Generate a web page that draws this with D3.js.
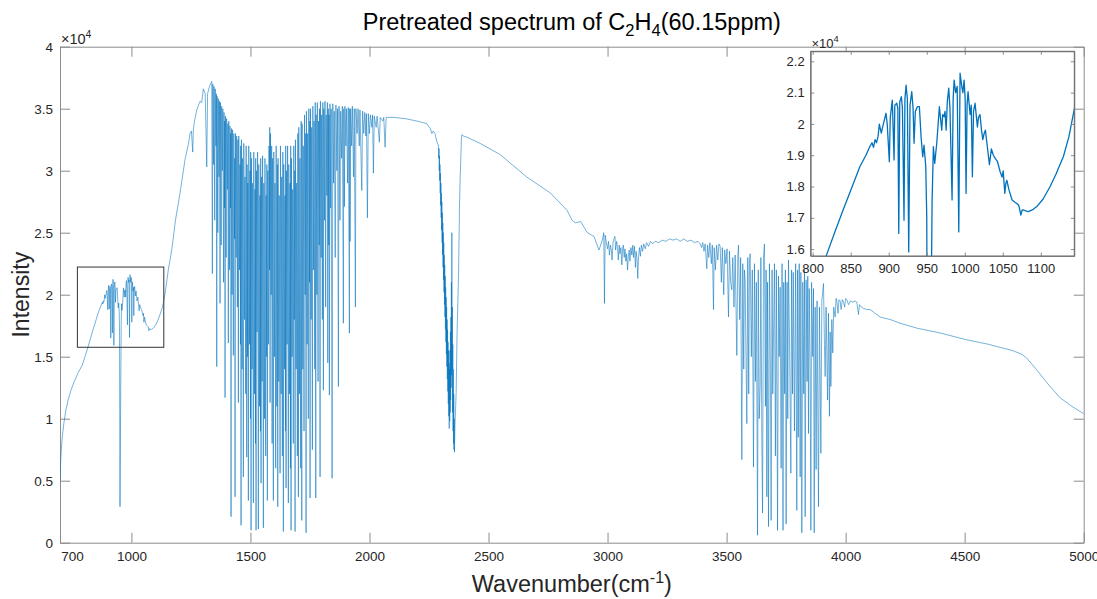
<!DOCTYPE html>
<html lang="en">
<head>
<meta charset="UTF-8">
<title>Pretreated spectrum of C2H4</title>
<style>
  body { margin: 0; background: #fff; }
  svg { display: block; font-family: "Liberation Sans", Arial, Helvetica, sans-serif; }
</style>
</head>
<body>
<script src="https://cdn.jsdelivr.net/npm/d3@7"></script>
<script>
// spectrum: [wavenumber (cm-1), intensity (x1e4)]
const risingEdge = [
  [700,0.50],[702,0.62],[705,0.74],[710,0.86],[716,0.96],[724,1.06],[734,1.15],[746,1.23],[760,1.30],
  [776,1.37],[793,1.43],[805,1.50],[818,1.58],[830,1.66],[840,1.725],[852,1.80],[862,1.863],[870,1.90],
  [875,1.927],[878,1.94],[880,1.925],[882,1.95],[884,1.94],[886,1.96],[887.6,1.999],[890.2,1.971],[893,2.00],
  [896.4,2.034],[898,2.00],[900.8,1.879],[902,2.02],[904.7,2.076],[907,1.885],[908,2.06],[910.5,2.066],
  [912,2.05],[913.2,1.650],[914.5,2.07],[916.6,2.087],[918,2.05],[920.1,1.692],[921.3,2.08],[922.8,2.124],
  [924.5,2.08],[926.3,1.591],[928,2.06],[930.3,2.103],[932,2.05],[933.3,1.938],[935,2.04],[937.6,2.055],
  [940.3,2.055],[942.5,1.96],[944.7,1.895],[946.4,1.932],[948.7,1.863],[950,1.70],[952,0.29],[955,1.20],
  [957,1.75],[958.7,1.927],[960.5,1.874],[963.2,1.94],[966.6,2.055],[968,2.02],[969.7,1.980],[971,2.03],
  [972.8,2.023],[974,2.04],[975.5,1.980],[977,2.07],[978.9,2.114],[980.5,2.05],[983.3,1.757],[984.7,2.08],
  [986,2.140],[988,2.10],[990,2.12],[992.1,1.655],[993.8,2.162],[996.4,2.114],[997.5,2.10],[999.1,2.140],
  [1000.5,2.08],[1001.7,1.778],[1003,2.06],[1004.3,2.103],[1007,2.03],[1008.5,2.06],[1010,1.831],
  [1011.5,2.04],[1013.5,2.066],[1016.6,1.99],[1018,2.02],[1020,2.03],[1022,1.98],[1023.7,1.95],
  [1025.5,1.97],[1027.1,1.98],[1030,1.92],[1032.4,1.87],[1035,1.92],[1037.6,1.90],[1040,1.89],
  [1042.9,1.88],[1046.4,1.848],[1049,1.83],[1050.5,1.85],[1052.6,1.778],[1054,1.81],[1055.3,1.82],
  [1058,1.79],[1062.2,1.757],[1066,1.75],[1068.4,1.746],[1071,1.74],[1073.7,1.709],[1075.5,1.725],
  [1077.1,1.725],[1080,1.722],[1083.7,1.72],[1090,1.727],[1094.7,1.736],[1103,1.76],[1112.2,1.80],
  [1120,1.84],[1129.7,1.896],[1137,1.96],[1144.2,2.05],[1155,2.20],[1169.3,2.36],[1185,2.60],
  [1204.2,2.82],[1225.2,3.09],[1240,3.22],[1246.2,3.30],[1252,3.32],[1257.6,3.15],[1260,3.33],
  [1265,3.40],[1274.4,3.49],[1288.2,3.56],[1295,3.55],[1302.1,3.66],[1310,3.62],[1316.4,3.03],
  [1320,3.62],[1328,3.68],[1337.4,3.72]
];

// H2O bending band
const bendBand = [
  [1340,2.17],[1342,3.70],[1345,3.05],[1347,3.68],[1350,2.60],[1352,3.66],[1355,3.20],[1357,3.62],
  [1358.4,1.42],[1360,3.60],[1363,2.50],[1365,3.58],[1368,2.95],[1370,3.56],[1372.3,1.93],[1374,3.55],
  [1377,2.40],[1379,3.52],[1382,3.00],[1384,3.50],[1387,2.10],[1389,3.47],[1391,2.70],[1392,3.40],
  [1393.3,1.17],[1395,3.44],[1398,2.30],[1400,3.42],[1403,2.85],[1405,3.38],[1407.1,1.61],[1409,3.40],
  [1412,2.20],[1414,3.36],[1416,2.70],[1417,3.30],[1418.5,0.21],[1420,3.34],[1423,2.00],[1425,3.33],
  [1428.2,1.51],[1430,3.30],[1433,2.45],[1434,3.10],[1435.3,0.37],[1437,3.30],[1440,2.30],[1442,3.28],
  [1445,1.90],[1447,3.25],[1449.2,1.13],[1451,3.28],[1454,2.20],[1456,3.05],[1458,1.60],[1459,3.20],
  [1460.5,0.14],[1462,3.25],[1465,1.40],[1467,3.10],[1470.2,0.53],[1472,3.22],[1475,1.80],[1477,2.95],
  [1480,1.20],[1482,3.20],[1484.4,0.69],[1486,3.05],[1488,1.50],[1489,2.90],[1491.2,0.34],[1493,3.20],
  [1496,1.60],[1498,3.00],[1500,1.00],[1501,3.15],[1502.5,0.10],[1504,3.10],[1507,1.40],[1509,2.90],
  [1512.2,0.32],[1514,3.15],[1517,1.20],[1519,2.85],[1521,0.80],[1522,3.10],[1523.5,0.10],[1525,3.00],
  [1528,1.70],[1530,3.15],[1533.2,0.11],[1535,3.05],[1538,1.10],[1540,2.80],[1542,0.90],[1543,3.10],
  [1544.5,0.48],[1546,2.95],[1549,1.30],[1551,3.12],[1554.2,0.12],[1556,2.90],[1559,1.00],[1561,3.10],
  [1564,0.70],[1566,2.80],[1568,1.50],[1569,3.05],[1571,0.34],[1573,3.00],[1576,1.60],[1578,3.20],
  [1580,2.20],[1581,3.35],[1582.4,1.13],[1584,3.30],[1587,2.00],[1589,3.20],[1591,0.80],[1593,3.10],
  [1596.2,0.34],[1598,3.15],[1601,1.50],[1603,2.90],[1606,0.60],[1608,3.20],[1611,1.10],[1613,3.05],
  [1614.7,0.29],[1616,3.10],[1619,1.30],[1621,2.80],[1624.4,0.56],[1626,3.20],[1629,1.20],[1631,2.95],
  [1634,0.70],[1636,3.15],[1638.2,0.09],[1640,3.05],[1643,1.40],[1645,2.80],[1647,0.90],[1648,3.20],
  [1649.6,0.44],[1651,3.00],[1654,1.60],[1656,3.20],[1659.2,0.32],[1661,3.05],[1664,1.20],[1666,2.90],
  [1668,0.60],[1669,3.20],[1670.6,0.10],[1672,3.10],[1675,1.50],[1677,2.85],[1680,0.80],[1682,3.20],
  [1684,1.80],[1686,3.00],[1687.4,0.09],[1689,3.25],[1692,1.40],[1694,2.90],[1697,0.70],[1699,3.30],
  [1701.3,0.37],[1703,3.35],[1706,1.20],[1708,3.10],[1711,0.60],[1713,3.40],[1715.6,0.18],[1717,3.38],
  [1720,1.40],[1722,3.20],[1725,0.90],[1727,3.45],[1730,2.00],[1732,3.30],[1733.6,0.08],[1735,3.48],
  [1738,1.60],[1740,3.30],[1743,1.00],[1745,3.50],[1748,2.10],[1749,3.40],[1750.4,0.36],[1752,3.50],
  [1755,1.80],[1757,3.35],[1760.1,0.75],[1762,3.52],[1765,2.20],[1767,3.40],[1770,1.40],[1772,3.55],
  [1774.4,0.36],[1776,3.45],[1779,2.00],[1781,3.55],[1784,1.30],[1786,3.40],[1789,2.40],[1790,3.50],
  [1792.4,0.53],[1794,3.56],[1797,2.30],[1799,3.45],[1802,1.80],[1804,3.55],[1806.3,1.23],[1808,3.50],
  [1811,2.60],[1813,3.56],[1816,1.90],[1818,3.45],[1821,2.80],[1823,3.55],[1824.8,1.45],[1827,3.50],
  [1829,2.40],[1830,3.45],[1831.5,1.19],[1834,3.54],[1837,2.70],[1839,3.50],[1842.9,0.52],[1846,3.54],
  [1849,2.90],[1852,3.48],[1856,2.30],[1859,3.53],[1863,3.00],[1866,3.50],[1869.3,1.26],[1872,3.52],
  [1876,2.60],[1879,3.48],[1883,3.10],[1886,3.52],[1890.3,1.77],[1892,3.50],[1894.6,2.71],[1897,3.52],
  [1901,3.20],[1904,3.50],[1908,2.90],[1911,3.51],[1915.6,1.69],[1917,3.50],[1918.5,2.43],[1921,3.50],
  [1925,3.20],[1928,3.52],[1933,2.95],[1936,3.50],[1940.8,1.90],[1943,3.50],[1948,3.30],[1952,3.50],
  [1957,3.20],[1960,3.49],[1967.6,2.84],[1971,3.48],[1976,3.30],[1980,3.47],[1985,3.28],[1987,3.46],
  [1991.2,2.62],[1995,3.46],[2000,3.30],[2004,3.45],[2010,3.35],[2013,3.45],[2016.4,2.98],[2020,3.44],
  [2028,3.35],[2032,3.44],[2041.6,3.23],[2045,3.43],[2056,3.40],[2060,3.43],[2065.6,3.19],[2070,3.43]
];

// plateau, CO2 band and the slow decline
const co2Region = [
  [2100,3.43],[2150,3.42],[2200,3.40],[2240,3.38],[2255,3.34],[2262,3.30],[2268,3.32],[2275,3.30],
  [2282,3.24],[2288,3.21],[2290,3.20],[2291,3.10],[2292,3.18],[2293,3.00],[2294,3.12],[2295,2.92],
  [2296,3.05],[2297,2.82],[2298,2.98],[2299,2.72],[2300,2.90],[2301,2.62],[2302,2.82],[2303,2.52],
  [2304,2.75],[2305,2.42],[2306,2.66],[2307,2.32],[2308,2.58],[2309,2.22],[2310,2.50],[2311,2.12],
  [2312,2.42],[2313,2.02],[2314,2.32],[2315,1.92],[2316,2.24],[2317,1.82],[2318,2.15],[2319,1.72],
  [2320,2.06],[2321,1.62],[2322,1.98],[2323,1.52],[2324,1.90],[2325,1.42],[2326,1.80],[2327,1.32],
  [2328,1.72],[2329,1.22],[2330,1.62],[2331,1.12],[2332,1.55],[2333,1.02],[2334,1.45],[2335,0.92],
  [2336,1.40],[2337,0.98],[2338,1.55],[2339,1.05],[2340,1.70],[2341,1.15],[2342,1.82],[2343,1.25],
  [2344,2.10],[2345,1.35],[2346,2.50],[2347,1.40],[2348,1.90],[2349,1.05],[2350,1.60],[2351,0.90],
  [2352,1.40],[2353,0.80],[2354,1.20],[2355,0.75],[2356,1.00],[2357,0.73],[2359,0.95],[2362,1.10],
  [2364,1.21],[2368,1.70],[2374,2.15],[2378,2.70],[2381,2.95],[2386,3.25],[2388,3.29],
  [2395,3.28],[2409,3.27],[2465,3.22],[2549,3.13],[2660,2.95],[2760,2.82],[2830,2.68],[2851,2.60],
  [2865,2.58],[2887,2.59],[2915,2.50],[2943,2.47],[2964,2.36],[2978,2.44],[2984,2.50],[2987,1.93],
  [2990,2.48],[2996,2.41],[3000,2.37],[3004,2.43],[3008,2.32],[3012,2.40],[3016,2.36],[3019,2.28],
  [3023,2.42],[3027,2.45],[3031,2.47],[3034,2.36],[3038,2.43],[3042,2.38],[3045,2.28],[3049,2.40],
  [3052,2.33],[3056,2.38],[3060,2.24],[3063,2.36],[3066,2.40],[3070,2.30],[3073,2.37],[3077,2.27],
  [3080,2.33],[3084,2.20],[3087,2.31],[3091,2.36],[3094,2.27],[3098,2.38],[3102,2.32],[3106,2.40],
  [3109,2.30],[3113,2.39],[3117,2.22],[3120,2.35],[3124,2.28],[3127,2.13],[3130,2.30],[3134,2.38],
  [3138,2.31],[3142,2.40],[3147,2.35],[3152,2.41],[3158,2.37],[3164,2.42],[3172,2.39],[3180,2.43],
  [3190,2.41],[3200,2.43],[3215,2.42],[3230,2.44],[3245,2.43],[3260,2.45],[3275,2.44],[3290,2.45],
  [3305,2.43],[3320,2.45],[3335,2.43],[3350,2.44],[3365,2.42],[3380,2.43]
];

// H2O stretching band
const stretchBand = [
  [3389,2.41],[3395,2.38],[3400,2.42],[3405,2.35],[3410,2.41],[3417,2.21],[3420,2.40],[3425,2.30],
  [3430,2.42],[3436,2.25],[3440,2.40],[3445,1.88],[3448,2.38],[3453,2.20],[3458,2.40],[3463,2.28],
  [3468,2.41],[3473,2.39],[3478,2.10],[3482,2.38],[3488,2.00],[3492,2.36],[3497,2.25],[3502,2.37],
  [3508,1.82],[3512,2.35],[3517,2.10],[3522,2.04],[3526,2.30],[3531,1.90],[3536,2.32],[3543,1.51],
  [3547,2.30],[3550,2.40],[3555,1.80],[3559,2.30],[3564,0.67],[3568,2.25],[3572,1.40],[3575,2.20],
  [3578,2.11],[3581,1.60],[3585,0.96],[3589,2.30],[3593,1.20],[3596,2.25],[3599,2.33],[3604,1.50],
  [3608,2.20],[3613,0.61],[3617,2.25],[3621,1.30],[3625,2.10],[3630,0.06],[3633,2.20],[3637,1.00],
  [3641,1.26],[3644,2.30],[3648,0.80],[3651,0.24],[3655,2.30],[3659,2.41],[3663,1.10],[3666,2.20],
  [3669,0.37],[3672,2.10],[3676,0.13],[3680,2.25],[3684,1.40],[3687,0.18],[3691,2.20],[3694,1.20],
  [3697,1.66],[3701,2.25],[3705,0.70],[3709,2.20],[3714,0.10],[3718,2.15],[3721,1.50],[3725,2.06],
  [3729,0.60],[3733,2.25],[3737,0.10],[3740,2.10],[3744,1.20],[3747,2.20],[3750,0.15],[3754,2.10],
  [3757,1.00],[3760,2.28],[3765,1.50],[3770,0.56],[3773,2.20],[3777,1.20],[3780,2.18],[3785,0.90],
  [3790,2.25],[3795,0.26],[3798,2.20],[3801,0.85],[3805,2.25],[3809,0.53],[3812,2.18],[3816,0.08],
  [3820,2.10],[3824,1.20],[3827,2.20],[3830,0.21],[3834,2.12],[3838,1.30],[3841,2.15],[3844,0.88],
  [3847,2.05],[3851,1.40],[3854,0.10],[3857,2.10],[3862,1.50],[3865,2.05],[3868,0.08],[3872,1.90],
  [3876,0.59],[3880,1.95],[3886,0.29],[3890,1.90],[3896,0.72],[3900,1.95],[3907,2.09],[3911,1.60],
  [3914,1.34],[3918,1.90],[3924,1.15],[3928,1.85],[3932,1.02],[3935,1.70],[3938,1.26],[3942,1.80],
  [3946,1.53],[3950,1.90],[3956,1.82],[3960,1.97],[3963,1.95],[3968,1.85],[3972,1.96],[3977,1.95],
  [3981,1.88],[3986,1.96],[3991,1.94],[3996,1.90],[4000,1.97],[4005,1.96],[4012,1.92],[4020,1.95],
  [4030,1.94],[4040,1.95],[4047,1.94],[4054,1.84],[4058,1.92],[4066,1.90],[4075,1.89],[4090,1.88],
  [4103,1.88]
];

const tailRegion = [
  [4145,1.82],[4187,1.80],[4229,1.77],[4300,1.73],[4400,1.69],[4500,1.64],[4600,1.60],[4700,1.55],
  [4740,1.52],[4760,1.49],[4800,1.40],[4850,1.28],[4900,1.17],[4950,1.10],[5000,1.04]
];

const spectrum = [].concat(risingEdge, bendBand, co2Region, stretchBand, tailRegion);

const xTicks = [700, 1000, 1500, 2000, 2500, 3000, 3500, 4000, 4500, 5000];
const yTicks = [0, 0.5, 1, 1.5, 2, 2.5, 3, 3.5, 4];
const insetXTicks = [800, 850, 900, 950, 1000, 1050, 1100];
const insetYTicks = [1.6, 1.7, 1.8, 1.9, 2.0, 2.1, 2.2];
const zoomBoxX = [773, 1136];
const zoomBoxY = [1.576, 2.223];

// layout
const W = 1097, H = 599;
const M = { left: 60, right: 1083.7, top: 46.7, bottom: 542.7 };
const I = { left: 810.7, right: 1074.3, top: 51.3, bottom: 256 };
const lineColor = '#0072bd', textColor = '#262626';

const svg = d3.select('body').append('svg').attr('width', W).attr('height', H);
const defs = svg.append('defs');
defs.append('clipPath').attr('id', 'main-clip').append('rect')
  .attr('x', M.left).attr('y', M.top).attr('width', M.right - M.left).attr('height', M.bottom - M.top);
defs.append('clipPath').attr('id', 'inset-clip').append('rect')
  .attr('x', I.left).attr('y', I.top).attr('width', I.right - I.left).attr('height', I.bottom - I.top);

const x = d3.scaleLinear().domain([700, 5000]).range([M.left, M.right]);
const y = d3.scaleLinear().domain([0, 4]).range([M.bottom, M.top]);

function styleAxis(g, size) {
  g.attr('font-family', null).attr('font-size', size);
  g.select('.domain').attr('stroke', '#8c8c8c');
  g.selectAll('.tick line').attr('stroke', '#8c8c8c');
  g.selectAll('.tick text').attr('fill', textColor);
}
const numFmt = d => String(+d.toFixed(1));

// main axes
svg.append('g').attr('transform', `translate(0,${M.bottom})`)
  .call(d3.axisBottom(x).tickValues(xTicks).tickSize(-10).tickSizeOuter(0).tickPadding(9).tickFormat(d3.format('d')))
  .call(g => styleAxis(g, '13.5px'))
  .call(g => g.selectAll('.tick').filter(d => d === 700).select('text').attr('x', 12));
svg.append('g').attr('transform', `translate(0,${M.top})`)
  .call(d3.axisTop(x).tickValues(xTicks).tickSize(-10).tickSizeOuter(0).tickFormat(''))
  .call(g => styleAxis(g, '13.5px'));
svg.append('g').attr('transform', `translate(${M.left},0)`)
  .call(d3.axisLeft(y).tickValues(yTicks).tickSize(-10).tickSizeOuter(0).tickPadding(7).tickFormat(numFmt))
  .call(g => styleAxis(g, '13.5px'));
svg.append('g').attr('transform', `translate(${M.right},0)`)
  .call(d3.axisRight(y).tickValues(yTicks).tickSize(-10).tickSizeOuter(0).tickFormat(''))
  .call(g => styleAxis(g, '13.5px'));

const mainLine = d3.line().x(d => x(d[0])).y(d => y(d[1]));
svg.append('g').attr('clip-path', 'url(#main-clip)')
  .append('path').datum(spectrum)
  .attr('d', mainLine).attr('fill', 'none').attr('stroke', lineColor)
  .attr('stroke-width', 0.55).attr('stroke-linejoin', 'round');

// zoom box on main plot
svg.append('rect')
  .attr('x', x(zoomBoxX[0])).attr('y', y(zoomBoxY[1]))
  .attr('width', x(zoomBoxX[1]) - x(zoomBoxX[0])).attr('height', y(zoomBoxY[0]) - y(zoomBoxY[1]))
  .attr('fill', 'none').attr('stroke', '#333').attr('stroke-width', 1);

// multiplier labels
function multiplier(px, py, size) {
  const t = svg.append('text').attr('x', px).attr('y', py).attr('fill', textColor).attr('font-size', size);
  t.append('tspan').text('\u00d710');
  t.append('tspan').attr('dy', -6).attr('font-size', size * 0.72).text('4');
}
multiplier(61, 43.5, 14.5);

// inset
const xi = d3.scaleLinear().domain([797.4, 1144]).range([I.left, I.right]);
const yi = d3.scaleLinear().domain([1.578, 2.232]).range([I.bottom, I.top]);
svg.append('rect').attr('x', I.left).attr('y', I.top)
  .attr('width', I.right - I.left).attr('height', I.bottom - I.top).attr('fill', '#fff');

const insetLine = d3.line().x(d => xi(d[0])).y(d => yi(d[1]));
svg.append('g').attr('clip-path', 'url(#inset-clip)')
  .append('path').datum(spectrum.filter(d => d[0] >= 780 && d[0] <= 1160))
  .attr('d', insetLine).attr('fill', 'none').attr('stroke', lineColor)
  .attr('stroke-width', 1.3).attr('stroke-linejoin', 'round');

const tk = -3.5;
svg.append('g').attr('transform', `translate(0,${I.bottom})`)
  .call(d3.axisBottom(xi).tickValues(insetXTicks).tickSize(tk).tickSizeOuter(0).tickPadding(8).tickFormat(d3.format('d')))
  .call(g => styleAxis(g, '13px'));
svg.append('g').attr('transform', `translate(0,${I.top})`)
  .call(d3.axisTop(xi).tickValues(insetXTicks).tickSize(tk).tickSizeOuter(0).tickFormat(''))
  .call(g => styleAxis(g, '13px'));
svg.append('g').attr('transform', `translate(${I.left},0)`)
  .call(d3.axisLeft(yi).tickValues(insetYTicks).tickSize(tk).tickSizeOuter(0).tickPadding(6).tickFormat(numFmt))
  .call(g => styleAxis(g, '13px'));
svg.append('g').attr('transform', `translate(${I.right},0)`)
  .call(d3.axisRight(yi).tickValues(insetYTicks).tickSize(tk).tickSizeOuter(0).tickFormat(''))
  .call(g => styleAxis(g, '13px'));
svg.append('rect').attr('x', I.left).attr('y', I.top)
  .attr('width', I.right - I.left).attr('height', I.bottom - I.top)
  .attr('fill', 'none').attr('stroke', '#666').attr('stroke-width', 1);
multiplier(811.5, 48, 13);

// title and axis labels
const title = svg.append('text').attr('x', (M.left + M.right) / 2).attr('y', 30)
  .attr('text-anchor', 'middle').attr('font-size', 23.5).attr('fill', '#000');
title.append('tspan').text('Pretreated spectrum of C');
title.append('tspan').attr('dy', 6).attr('font-size', 16.5).text('2');
title.append('tspan').attr('dy', -6).text('H');
title.append('tspan').attr('dy', 6).attr('font-size', 16.5).text('4');
title.append('tspan').attr('dy', -6).text('(60.15ppm)');

const xlab = svg.append('text').attr('x', (M.left + M.right) / 2).attr('y', 592)
  .attr('text-anchor', 'middle').attr('font-size', 23.5).attr('fill', textColor);
xlab.append('tspan').text('Wavenumber(cm');
xlab.append('tspan').attr('dy', -9).attr('font-size', 16).text('-1');
xlab.append('tspan').attr('dy', 9).text(')');

svg.append('text').attr('transform', `translate(29,${(M.top + M.bottom) / 2}) rotate(-90)`)
  .attr('text-anchor', 'middle').attr('font-size', 23).attr('fill', textColor).text('Intensity');
</script>
</body>
</html>
